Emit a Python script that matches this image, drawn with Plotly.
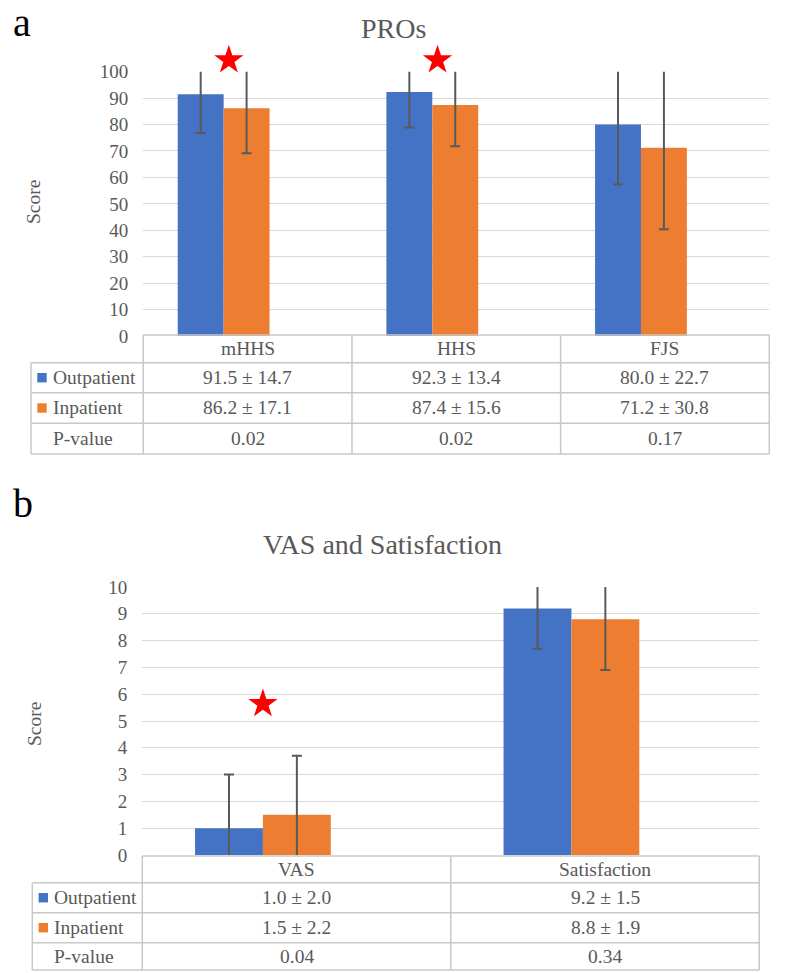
import plotly.graph_objects as go

W, H = 787, 973

# ---------------- data ----------------
series = ["Outpatient", "Inpatient"]
colors = ["#4472C4", "#ED7D31"]

cats_a = ["mHHS", "HHS", "FJS"]
out_mean_a = [91.5, 92.3, 80.0]
out_sd_a = [14.7, 13.4, 22.7]
inp_mean_a = [86.2, 87.4, 71.2]
inp_sd_a = [17.1, 15.6, 30.8]
p_a = ["0.02", "0.02", "0.17"]
star_idx_a = [0, 1]
star_y_a = 104.4
yticks_a = list(range(0, 101, 10))

cats_b = ["VAS", "Satisfaction"]
out_mean_b = [1.0, 9.2]
out_sd_b = [2.0, 1.5]
inp_mean_b = [1.5, 8.8]
inp_sd_b = [2.2, 1.9]
p_b = ["0.04", "0.34"]
star_idx_b = [0]
star_y_b = 5.64
yticks_b = list(range(0, 11, 1))

# ---------------- layout geometry (pixels) ----------------
FONT = "Liberation Serif, Times New Roman, Times, serif"
GRAY = "#595959"
LINE = "#C8C8C8"


def fx(px):
    return px / W


def fy(py):
    return 1 - py / H


panels = [
    dict(key="a", title="PROs", title_x=393.5, title_y=29, label_y=22,
         cats=cats_a, out_m=out_mean_a, out_s=out_sd_a, inp_m=inp_mean_a, inp_s=inp_sd_a,
         p=p_a, star_idx=star_idx_a, star_y=star_y_a, yticks=yticks_a, yrange=[0, 100],
         x0=143.3, x1=769.3, yb=336.0, yt=71.7,
         rows=[335.0, 362.7, 392.7, 423.3, 454.0], left=31.0,
         shift=-0.115, star_dx=0.025, score_y=202),
    dict(key="b", title="VAS and Satisfaction", title_x=382, title_y=544, label_y=503,
         cats=cats_b, out_m=out_mean_b, out_s=out_sd_b, inp_m=inp_mean_b, inp_s=inp_sd_b,
         p=p_b, star_idx=star_idx_b, star_y=star_y_b, yticks=yticks_b, yrange=[0, 10],
         x0=142.3, x1=759.3, yb=855.0, yt=587.0,
         rows=[856.0, 882.7, 912.7, 942.7, 970.0], left=32.3,
         shift=-0.109, star_dx=0.0, score_y=724),
]

BAR_W = 0.22
STAR_EXTRA = 40.0  # px of head-room above the plot for the star layer

fig = go.Figure()
shapes = []
annotations = []
layout_axes = {}

for k, P in enumerate(panels):
    n = len(P["cats"])
    xa = "x" if k == 0 else "x%d" % (k * 2 + 1)
    ya = "y" if k == 0 else "y%d" % (k * 2 + 1)
    xs = "x%d" % (k * 2 + 2)
    ys = "y%d" % (k * 2 + 2)
    xa_name = "xaxis" if k == 0 else "xaxis%d" % (k * 2 + 1)
    ya_name = "yaxis" if k == 0 else "yaxis%d" % (k * 2 + 1)
    xs_name = "xaxis%d" % (k * 2 + 2)
    ys_name = "yaxis%d" % (k * 2 + 2)

    xdom = [fx(P["x0"]), fx(P["x1"])]
    ydom = [fy(P["yb"]), fy(P["yt"])]
    idx = list(range(n))

    means = [P["out_m"], P["inp_m"]]
    sds = [P["out_s"], P["inp_s"]]
    for s in range(2):
        fig.add_trace(go.Bar(
            x=idx, y=means[s], name=series[s],
            width=BAR_W, offset=P["shift"] - BAR_W + s * BAR_W,
            marker=dict(color=colors[s], line=dict(width=0)),
            error_y=dict(type="data", array=sds[s], symmetric=True,
                         color=GRAY, thickness=2, width=5),
            xaxis=xa, yaxis=ya, showlegend=False, hoverinfo="skip",
        ))

    # significance stars on a same-scale layer with extra head-room
    ppu = (P["yb"] - P["yt"]) / (P["yrange"][1] - P["yrange"][0])
    fig.add_trace(go.Scatter(
        x=[i + P["shift"] + P["star_dx"] for i in P["star_idx"]],
        y=[P["star_y"]] * len(P["star_idx"]),
        mode="markers",
        marker=dict(symbol="star", size=22, color="#FF0000", line=dict(width=0)),
        cliponaxis=False, xaxis=xs, yaxis=ys, showlegend=False, hoverinfo="skip",
    ))

    layout_axes[xa_name] = dict(domain=xdom, range=[-0.5, n - 0.5], anchor=ya,
                                showgrid=False, zeroline=False, showticklabels=False,
                                showline=False, ticks="", fixedrange=True, automargin=False)
    layout_axes[ya_name] = dict(domain=ydom, range=P["yrange"], anchor=xa,
                                tickmode="array", tickvals=P["yticks"],
                                ticktext=[str(t) for t in P["yticks"]],
                                showgrid=True, gridcolor="#D9D9D9", gridwidth=1.4,
                                zeroline=False, showline=False, ticks="",
                                ticklabelstandoff=14, automargin=False,
                                tickfont=dict(family=FONT, size=19, color=GRAY),
                                fixedrange=True)
    layout_axes[xs_name] = dict(domain=xdom, range=[-0.5, n - 0.5], anchor=ys,
                                visible=False, fixedrange=True, automargin=False)
    layout_axes[ys_name] = dict(domain=[fy(P["yb"]), fy(P["yt"] - STAR_EXTRA)],
                                range=[P["yrange"][0], P["yrange"][1] + STAR_EXTRA / ppu],
                                anchor=xs, visible=False, fixedrange=True, automargin=False)

    # ---- titles / labels ----
    annotations.append(dict(text=P["key"], x=fx(11), y=fy(P["label_y"]), xref="paper", yref="paper",
                            xanchor="left", yanchor="middle", showarrow=False,
                            font=dict(family=FONT, size=40, color="#000000")))
    annotations.append(dict(text=P["title"], x=fx(P["title_x"]), y=fy(P["title_y"]),
                            xref="paper", yref="paper", xanchor="center", yanchor="middle",
                            showarrow=False, font=dict(family=FONT, size=28, color=GRAY)))
    annotations.append(dict(text="Score", x=fx(34), y=fy(P["score_y"]), xref="paper", yref="paper",
                            xanchor="center", yanchor="middle", textangle=-90, showarrow=False,
                            font=dict(family=FONT, size=19.5, color=GRAY)))

    # ---- data table ----
    rows = P["rows"]
    cw = (P["x1"] - P["x0"]) / n
    line = dict(color=LINE, width=1.5)
    shapes.append(dict(type="line", xref="paper", yref="paper", x0=fx(P["x0"]), x1=fx(P["x1"]),
                       y0=fy(rows[0]), y1=fy(rows[0]), line=line))
    for r in rows[1:]:
        shapes.append(dict(type="line", xref="paper", yref="paper", x0=fx(P["left"]), x1=fx(P["x1"]),
                           y0=fy(r), y1=fy(r), line=line))
    shapes.append(dict(type="line", xref="paper", yref="paper", x0=fx(P["left"]), x1=fx(P["left"]),
                       y0=fy(rows[1]), y1=fy(rows[-1]), line=line))
    for j in range(n + 1):
        xp = P["x0"] + j * cw
        shapes.append(dict(type="line", xref="paper", yref="paper", x0=fx(xp), x1=fx(xp),
                           y0=fy(rows[0]), y1=fy(rows[-1]), line=line))

    centers = [(rows[i] + rows[i + 1]) / 2 for i in range(4)]
    tfont = dict(family=FONT, size=19.5, color=GRAY)
    for s in range(2):
        yc = centers[1 + s]
        shapes.append(dict(type="rect", xref="paper", yref="paper",
                           x0=fx(P["left"] + 6.3), x1=fx(P["left"] + 15.7),
                           y0=fy(yc + 4.7), y1=fy(yc - 4.7),
                           fillcolor=colors[s], line=dict(width=0)))
        annotations.append(dict(text=series[s], x=fx(P["left"] + 19.5), y=fy(yc), xref="paper",
                                yref="paper", xanchor="left", yanchor="middle", showarrow=False,
                                font=tfont))
    annotations.append(dict(text="P-value", x=fx(P["left"] + 19.5), y=fy(centers[3]), xref="paper",
                            yref="paper", xanchor="left", yanchor="middle", showarrow=False,
                            font=tfont))
    for i in range(n):
        cells = [P["cats"][i],
                 "%.1f ± %.1f" % (P["out_m"][i], P["out_s"][i]),
                 "%.1f ± %.1f" % (P["inp_m"][i], P["inp_s"][i]),
                 P["p"][i]]
        for r in range(4):
            annotations.append(dict(text=cells[r], x=i, y=fy(centers[r]), xref=xa, yref="paper",
                                    xanchor="center", yanchor="middle", showarrow=False,
                                    font=tfont))

fig.update_layout(
    template="none",
    width=W, height=H,
    margin=dict(l=0, r=0, t=0, b=0, pad=0, autoexpand=False),
    font=dict(family=FONT, color=GRAY),
    paper_bgcolor="white", plot_bgcolor="rgba(0,0,0,0)",
    barmode="overlay", showlegend=False,
    shapes=shapes, annotations=annotations,
    **layout_axes,
)

fig.write_html(
    "out.html",
    config={"responsive": False, "displayModeBar": False},
    post_script="document.body.style.margin='0px';document.body.style.overflow='hidden';",
)
